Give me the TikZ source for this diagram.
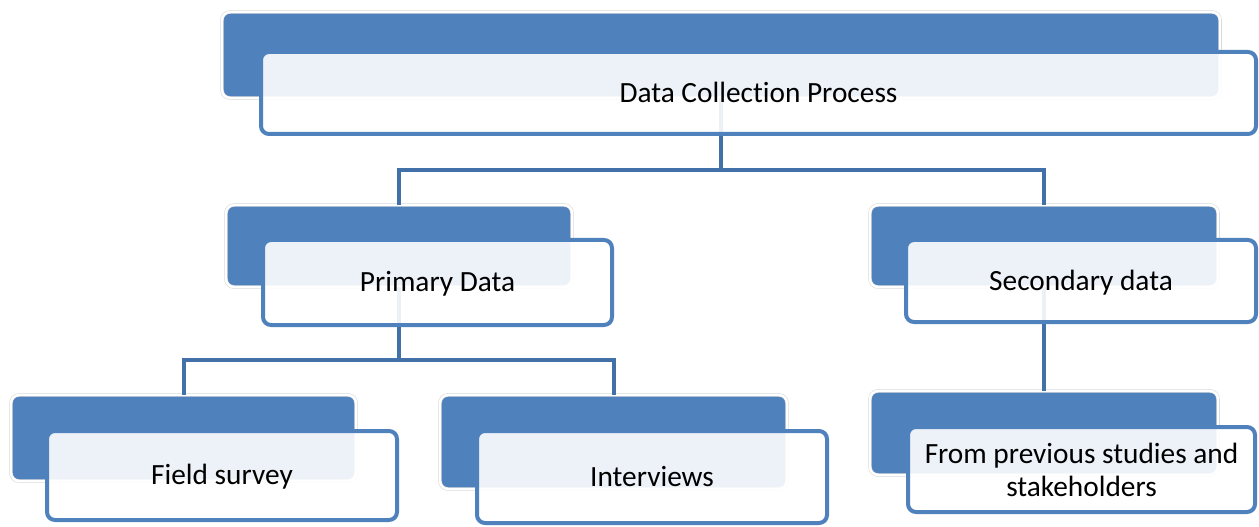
\documentclass[tikz,border=0pt]{standalone}
\usepackage{fontspec}
\setmainfont{Carlito}[Ligatures={NoCommon}]
\definecolor{boxblue}{HTML}{4F81BD}
\definecolor{connblue}{HTML}{4271A9}
\begin{document}
\begin{tikzpicture}[x=0.75pt,y=-0.75pt,
  backbox/.style={rectangle, rounded corners=6pt, fill=boxblue, draw=black!16, double=white, double distance=1.8pt, line width=0.4pt, inner sep=0pt, outer sep=0pt},
  frontbox/.style={rectangle, rounded corners=6pt, fill=white, fill opacity=0.9, text opacity=1, draw=boxblue, draw opacity=1, line width=3pt, inner sep=0pt, outer sep=0pt, font=\fontsize{22}{24.75}\selectfont, align=center, text=black},
  oneline/.style={text height=14pt, text depth=0pt},
  conn/.style={draw=connblue, line width=3pt}]
\useasboundingbox (0,0) rectangle (1259,527);
% back boxes
\node[backbox, minimum width={998*0.75pt}, minimum height={86*0.75pt}] (b0) at (721,55) {};
\node[backbox, minimum width={346*0.75pt}, minimum height={82*0.75pt}] (b1) at (399,246) {};
\node[backbox, minimum width={348*0.75pt}, minimum height={82*0.75pt}] (b2) at (1044,246) {};
\node[backbox, minimum width={345*0.75pt}, minimum height={86*0.75pt}] (b3) at (183.5,438) {};
\node[backbox, minimum width={347*0.75pt}, minimum height={94*0.75pt}] (b4) at (613.5,442) {};
\node[backbox, minimum width={348*0.75pt}, minimum height={84*0.75pt}] (b5) at (1044,433) {};
% connectors
\coordinate (j0) at (721,170);
\coordinate (j1) at (399,360);
\draw[conn] (b0.south) |- (j0) -| (b1.north);
\draw[conn] (j0) -| (b2.north);
\draw[conn] (b1.south) |- (j1) -| (b3.north);
\draw[conn] (j1) -| (b4.north);
\draw[conn] (b2.south) -- (b5.north);
% front boxes
\node[frontbox, oneline, minimum width={995*0.75pt}, minimum height={82*0.75pt}] (f0) at (758.5,93) {Data Collection Process};
\node[frontbox, oneline, minimum width={349*0.75pt}, minimum height={85*0.75pt}] (f1) at (437.5,282.5) {Primary Data};
\node[frontbox, oneline, minimum width={350*0.75pt}, minimum height={82*0.75pt}] (f2) at (1081,281) {Secondary data};
\node[frontbox, oneline, minimum width={350*0.75pt}, minimum height={89*0.75pt}] (f3) at (222,475.5) {Field survey};
\node[frontbox, oneline, minimum width={350*0.75pt}, minimum height={92*0.75pt}] (f4) at (652,477) {Interviews};
\node[frontbox, minimum width={347*0.75pt}, minimum height={85*0.75pt}] (f5) at (1081.5,469.5) {From previous studies and\\stakeholders};
\end{tikzpicture}
\end{document}
